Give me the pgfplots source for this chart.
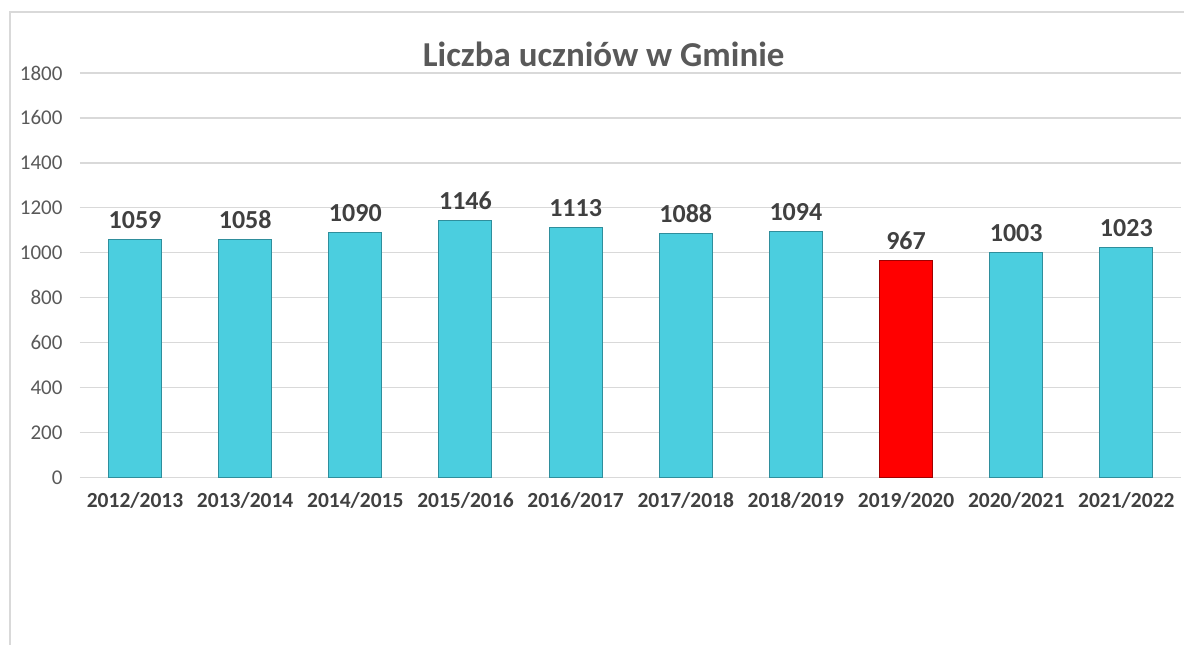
\documentclass[border=0pt]{standalone}
\usepackage{pgfplots}
\pgfplotsset{compat=1.18}
\usepackage{fontspec}
\setmainfont{Carlito}
\definecolor{barcyan}{HTML}{4BCEDF}
\definecolor{baredge}{HTML}{2F8E9C}
\definecolor{barred}{HTML}{FF0000}
\definecolor{rededge}{HTML}{A00000}
\definecolor{gridgray}{HTML}{D9D9D9}
\definecolor{ticktxt}{HTML}{595959}
\definecolor{labtxt}{HTML}{404040}
\begin{document}
\begin{tikzpicture}[x=1pt,y=1pt]
\path (0,0) rectangle (1185,645);
\draw[gridgray, line width=1.2pt] (10,0) -- (10,633) -- (1185,633);
\node[font=\fontsize{35}{40}\selectfont\bfseries, text=ticktxt] at (604,591) {Liczba uczniów w Gminie};
\begin{axis}[
  at={(80pt,167pt)}, anchor=south west,
  scale only axis, width=1102pt, height=405pt,
  xmin=-0.5, xmax=9.5, ymin=0, ymax=1800,
  ytick={0,200,...,1800},
  xtick={0,...,9},
  xticklabels={2012/2013,2013/2014,2014/2015,2015/2016,2016/2017,2017/2018,2018/2019,2019/2020,2020/2021,2021/2022},
  major tick length=0pt,
  axis x line*=bottom,
  axis y line*=left,
  x axis line style={draw=gridgray, line width=1.2pt, -},
  y axis line style={draw=none},
  ymajorgrids, grid style={gridgray, line width=1.2pt},
  ybar, bar width=53pt,
  /pgf/number format/1000 sep={},
  /pgf/number format/assume math mode=true,
  yticklabel style={font=\fontsize{21}{25}\selectfont, text=ticktxt, xshift=-14pt},
  xticklabel style={font=\fontsize{21.5}{25}\selectfont\bfseries, text=labtxt, yshift=-11pt},
  nodes near coords,
  every node near coord/.append style={font=\fontsize{26}{30}\selectfont\bfseries, text=labtxt, yshift=7pt, /pgf/number format/1000 sep={}},
  clip=false,
]
\addplot[bar shift=0pt, fill=barcyan, draw=baredge, line width=1pt] coordinates {
(0,1059) (1,1058) (2,1090) (3,1146) (4,1113) (5,1088) (6,1094) (8,1003) (9,1023)};
\addplot[bar shift=0pt, fill=barred, draw=rededge, line width=1pt] coordinates {(7,967)};
\end{axis}
\end{tikzpicture}
\end{document}
